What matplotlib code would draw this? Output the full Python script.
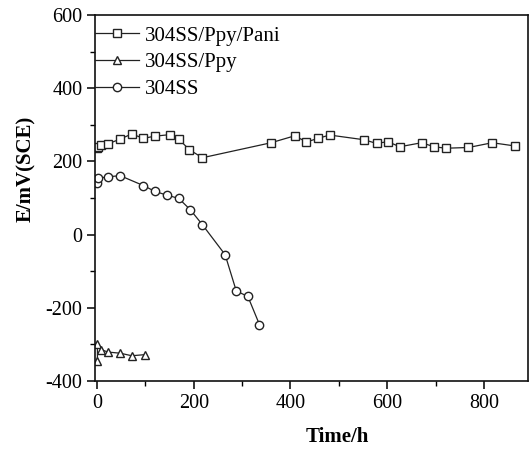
import matplotlib
matplotlib.use("Agg")
import matplotlib.pyplot as plt
from matplotlib.ticker import MultipleLocator

# data
t_pani = [0, 3, 8, 23, 48, 72, 96, 120, 150, 169, 191, 218, 360, 409, 433, 457, 481,
          553, 578, 601, 626, 671, 697, 721, 768, 817, 865]
e_pani = [236, 240, 245, 248, 261, 275, 263, 269, 273, 261, 232, 210, 251, 270, 253, 263, 272,
          259, 249, 254, 240, 251, 240, 236, 238, 251, 242]
t_ppy = [1, 1, 8, 23, 48, 72, 99]
e_ppy = [-344, -299, -314, -321, -324, -331, -328]
t_ss = [1, 3, 23, 48, 96, 120, 144, 169, 193, 218, 265, 288, 312, 336]
e_ss = [140, 154, 158, 161, 134, 118, 108, 99, 68, 27, -55, -154, -169, -246]

labels = ["304SS/Ppy/Pani", "304SS/Ppy", "304SS"]
xticks = [0, 200, 400, 600, 800]
yticks = [-400, -200, 0, 200, 400, 600]

plt.rcParams['font.family'] = ['Liberation Serif', 'DejaVu Serif']
plt.rcParams['axes.unicode_minus'] = False

fig = plt.figure(figsize=(5.30, 4.49), dpi=100)
ax = fig.add_axes([95/530, 1-381/449, 433/530, 366/449])

col = '#222222'
kw = dict(color=col, lw=0.9, mfc='white', mec=col, mew=1.0, ms=6)
ax.plot(t_pani, e_pani, marker='s', label=labels[0], **{**kw, 'ms': 5.5})
ax.plot(t_ppy, e_ppy, marker='^', label=labels[1], **kw)
ax.plot(t_ss, e_ss, marker='o', label=labels[2], **kw)

ax.set_xlim(-4, 891)
ax.set_ylim(-400, 600)
ax.set_xticks(xticks)
ax.set_yticks(yticks)
ax.xaxis.set_minor_locator(MultipleLocator(100))
ax.yaxis.set_minor_locator(MultipleLocator(100))
ax.tick_params(which='major', direction='out', length=6, width=1.1, labelsize=14.5, pad=3,
               top=False, right=False)
ax.tick_params(which='minor', direction='out', length=3.5, width=1.0, top=False, right=False)
for s in ax.spines.values():
    s.set_linewidth(1.2)
    s.set_color('#111111')

ax.set_xlabel("Time/h", fontsize=15, fontweight='bold')
ax.set_ylabel("E/mV(SCE)", fontsize=15, fontweight='bold')
ax.xaxis.set_label_coords(0.56, -0.126)
ax.yaxis.set_label_coords(-0.137, 0.58)

leg = ax.legend(loc='upper left', frameon=False, fontsize=15, handlelength=2.1,
                handletextpad=0.3, labelspacing=0.35, borderaxespad=0.0, borderpad=0.0,
                bbox_to_anchor=(0.0, 0.970))

fig.savefig("out.png", dpi=100)
